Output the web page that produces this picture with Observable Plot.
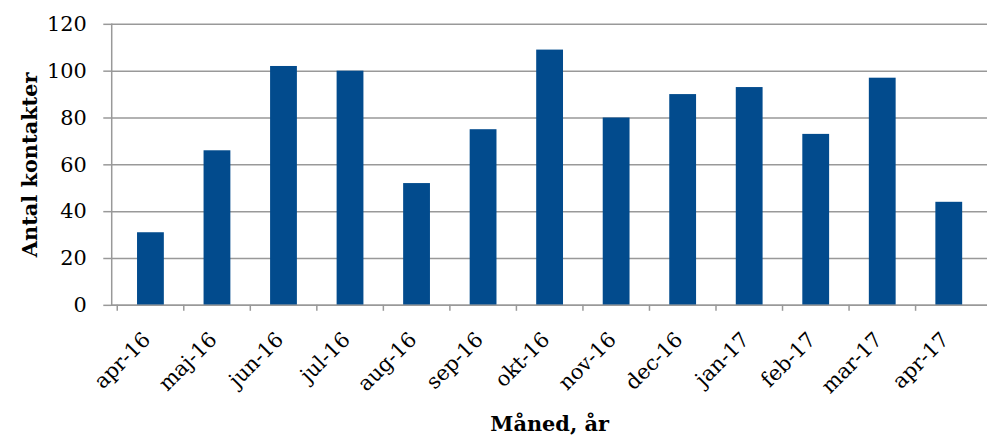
<!DOCTYPE html>
<html>
<head>
<meta charset="utf-8">
<script src="https://cdn.jsdelivr.net/npm/d3@7"></script>
<script src="https://cdn.jsdelivr.net/npm/@observablehq/plot@0.6"></script>
<style>
  html, body { margin: 0; padding: 0; background: #fff; }
  #chart { width: 987px; height: 441px; overflow: hidden; }
</style>
</head>
<body>
<div id="chart"></div>
<script>
const months = ["apr-16","maj-16","jun-16","jul-16","aug-16","sep-16","okt-16","nov-16","dec-16","jan-17","feb-17","mar-17","apr-17"];
const values = [31, 66, 102, 100, 52, 75, 109, 80, 90, 93, 73, 97, 44];
const yTicks = [0, 20, 40, 60, 80, 100, 120];
const yTitle = "Antal kontakter";
const xTitle = "Måned, år";

const data = months.map((m, i) => ({month: m, value: values[i]}));

const W = 994, H = 441, ML = 112, MR = 0, MT = 24, MB = 134;
const step = (W - ML - MR) / months.length;
const gridColor = "#999999";
const tickFont = 21;
const titleFont = 21;

const chart = Plot.plot({
  width: W, height: H,
  marginLeft: ML, marginRight: MR, marginTop: MT, marginBottom: MB,
  style: {fontFamily: "'DejaVu Serif', serif", fontSize: tickFont + "px", color: "#000", background: "#fff"},
  x: {domain: months, paddingInner: 0.6, paddingOuter: 0.3, label: null},
  y: {domain: [0, 120], ticks: yTicks, label: null},
  marks: [
    Plot.gridY(yTicks, {stroke: gridColor, strokeOpacity: 1, strokeWidth: 1.5}),
    Plot.axisY(yTicks, {tickSize: 8, tickPadding: 17, stroke: gridColor, strokeOpacity: 1, strokeWidth: 1.5, label: null, fontSize: tickFont, fill: "#000"}),
    Plot.frame({anchor: "left", stroke: gridColor, strokeWidth: 1.5}),
    Plot.barY(data, {x: "month", y: "value", fill: "#024b8d"}),
    Plot.axisX({tickSize: 6, dx: -step / 2, tickFormat: () => "", stroke: gridColor, strokeOpacity: 1, strokeWidth: 1.5, label: null}),
    Plot.axisX({tickSize: 0, tickRotate: -45, tickPadding: 18, dx: -4, dy: 13, label: null, fontSize: tickFont, fill: "#000"}),
    Plot.ruleY([0], {stroke: gridColor, strokeWidth: 1.5}),
    Plot.text([yTitle], {frameAnchor: "left", textAnchor: "middle", rotate: -90, dx: -82, fontWeight: "bold", fontSize: titleFont, fill: "#000"}),
    Plot.text([xTitle], {frameAnchor: "bottom", dy: 127, fontWeight: "bold", fontSize: titleFont, fill: "#000"})
  ]
});
document.getElementById("chart").appendChild(chart);
</script>
</body>
</html>
